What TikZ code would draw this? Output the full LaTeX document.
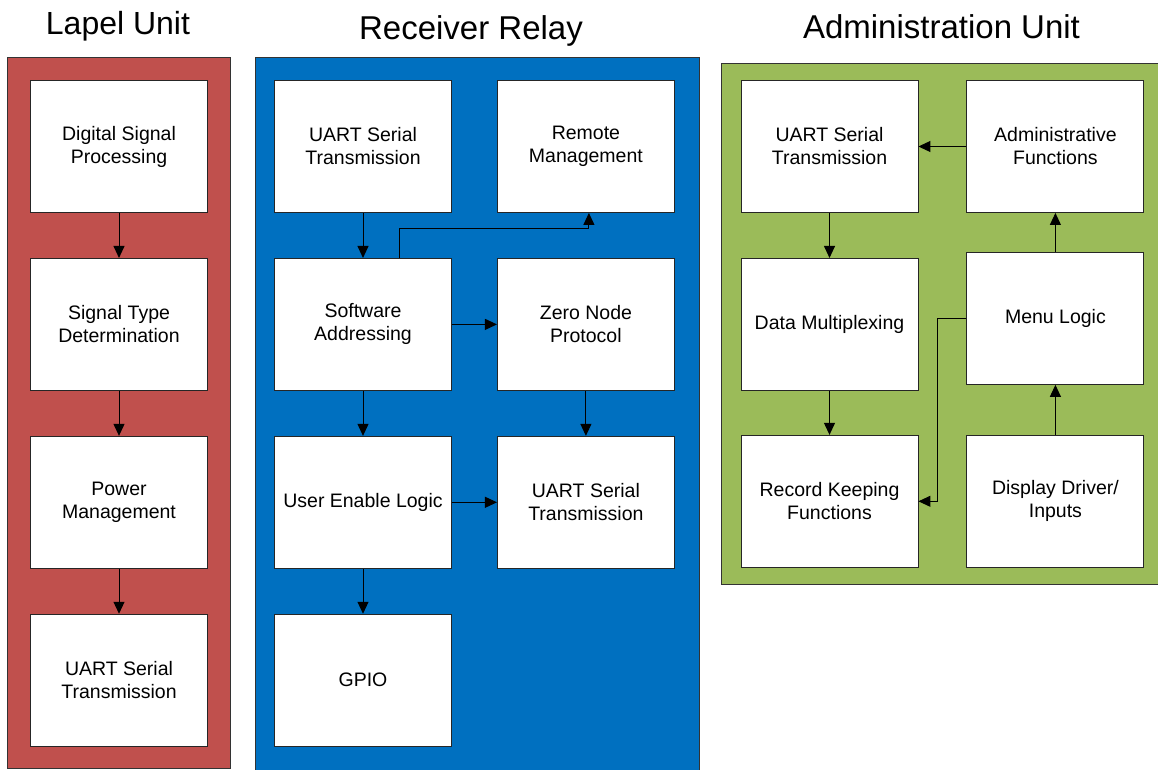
\documentclass[tikz,border=0pt]{standalone}
\usepackage{fontspec}
\setmainfont{Liberation Sans}
\usepackage{xcolor}
\usetikzlibrary{positioning,arrows.meta}
\definecolor{lapelred}{HTML}{C0504D}
\definecolor{relayblue}{HTML}{0070C0}
\definecolor{admingreen}{HTML}{9BBB59}

\begin{document}
\begin{tikzpicture}[
  x=1pt, y=-1pt,
  node distance=45pt,
  block/.style={draw=black!85, fill=white, line width=0.9pt, minimum width=177pt, minimum height=132pt, inner sep=2pt, align=center, font=\fontsize{19.5}{23}\selectfont},
  title/.style={anchor=base, inner sep=0pt, font=\fontsize{33}{38}\selectfont},
  panel/.style={draw=black!80, line width=0.9pt},
  arr/.style={draw=black, line width=1pt, -{Triangle[length=12pt,width=11pt]}}
]
\useasboundingbox (0,0) rectangle (1158,770);

\draw[panel, fill=lapelred] (7,57) rectangle (230,768);
\draw[panel, fill=relayblue] (255,57) rectangle (699,775);
\draw[panel, fill=admingreen] (721,63) rectangle (1165,584);

\node[title, font=\fontsize{32}{38}\selectfont] (tlapel) at (118,35) {Lapel Unit};
\node[title] (trelay) at (471,40) {Receiver Relay};
\node[title] (tadmin) at (941.5,39) {Administration Unit};

\node[block] (ldsp) at (119,146.5) {Digital Signal\\Processing};
\node[block, below=of ldsp] (lstd) {Signal Type\\Determination};
\node[block, below=of lstd] (lpow) {Power\\Management};
\node[block, below=of lpow] (luart) {UART Serial\\Transmission};

\node[block] (ruart) at (363,146.5) {UART Serial\\Transmission};
\node[block, right=of ruart] (rrem) {Remote\\Management};
\node[block, below=of ruart] (rsoft) {Software\\Addressing};
\node[block, below=of rrem] (rzero) {Zero Node\\Protocol};
\node[block, below=of rsoft] (ruser) {User Enable Logic};
\node[block, below=of rzero] (rout) {UART Serial\\Transmission};
\node[block, below=of ruser] (rgpio) {GPIO};

\node[block] (auart) at (829.5,146.5) {UART Serial\\Transmission};
\node[block, right=48pt of auart] (afunc) {Administrative\\Functions};
\node[block, below=of auart] (amux) {Data Multiplexing};
\node[block, below=44pt of amux] (arec) {Record Keeping\\Functions};
\node[block, right=48pt of arec] (adisp) {Display Driver/\\Inputs};
\node[block, above=50pt of adisp] (amenu) {Menu Logic};

\draw[arr] (ldsp) -- (lstd);
\draw[arr] (lstd) -- (lpow);
\draw[arr] (lpow) -- (luart);

\draw[arr] (ruart) -- (rsoft);
\draw[arr] ([xshift=36pt]rsoft.north) -- ++(0,-29) -| ([xshift=3pt]rrem.south);
\draw[arr] (rsoft) -- (rzero);
\draw[arr] (rsoft) -- (ruser);
\draw[arr] (rzero) -- (rout);
\draw[arr] (ruser) -- (rout);
\draw[arr] (ruser) -- (rgpio);

\draw[arr] (afunc) -- (auart);
\draw[arr] (auart) -- (amux);
\draw[arr] (amux) -- (arec);
\draw[arr] (adisp) -- (amenu);
\draw[arr] (amenu) -- (afunc);
\draw[arr] (amenu.west) -- ++(-29,0) |- (arec.east);
\end{tikzpicture}
\end{document}
